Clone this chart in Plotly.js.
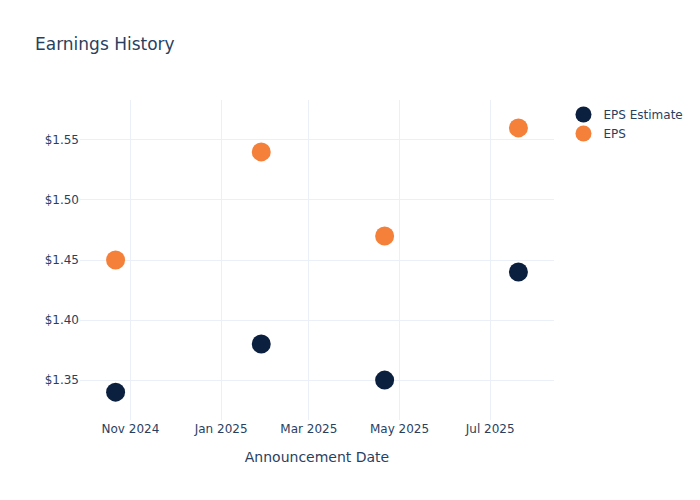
<!DOCTYPE html>
<html>
<head>
<meta charset="utf-8">
<script src="https://cdn.plot.ly/plotly-3.0.1.min.js"></script>
<style>body{margin:0;}#chart{width:700px;height:500px;}</style>
</head>
<body>
<div id="chart"></div>
<script>
const dates = ["2024-10-22", "2025-01-28", "2025-04-21", "2025-07-20"];
const epsEstimate = [1.34, 1.38, 1.35, 1.44];
const epsActual = [1.45, 1.54, 1.47, 1.56];

const traces = [
  {x: dates, y: epsEstimate, name: "EPS Estimate", type: "scatter", mode: "markers",
   marker: {color: "#0b1f3f", size: 19}},
  {x: dates, y: epsActual, name: "EPS", type: "scatter", mode: "markers",
   marker: {color: "#f5803a", size: 19}}
];
const layout = {
  width: 700, height: 500,
  paper_bgcolor: "white", plot_bgcolor: "white",
  font: {color: "#2a3f5f", family: "'DejaVu Sans', verdana, arial, sans-serif", size: 12},
  title: {text: "Earnings History", x: 0.05, font: {size: 17}},
  xaxis: {title: {text: "Announcement Date", standoff: 17}, automargin: true, gridcolor: "#EBF0F8", zeroline: false, showline: false,
          tickformat: "%b %Y", dtick: "M2", tick0: "2024-11-01"},
  yaxis: {tickprefix: "$", tickformat: ".2f", gridcolor: "#EBF0F8", zeroline: false, showline: false},
  legend: {font: {size: 12}},
  hovermode: "closest"
};
Plotly.newPlot("chart", traces, layout, {displayModeBar: false});
</script>
</body>
</html>
